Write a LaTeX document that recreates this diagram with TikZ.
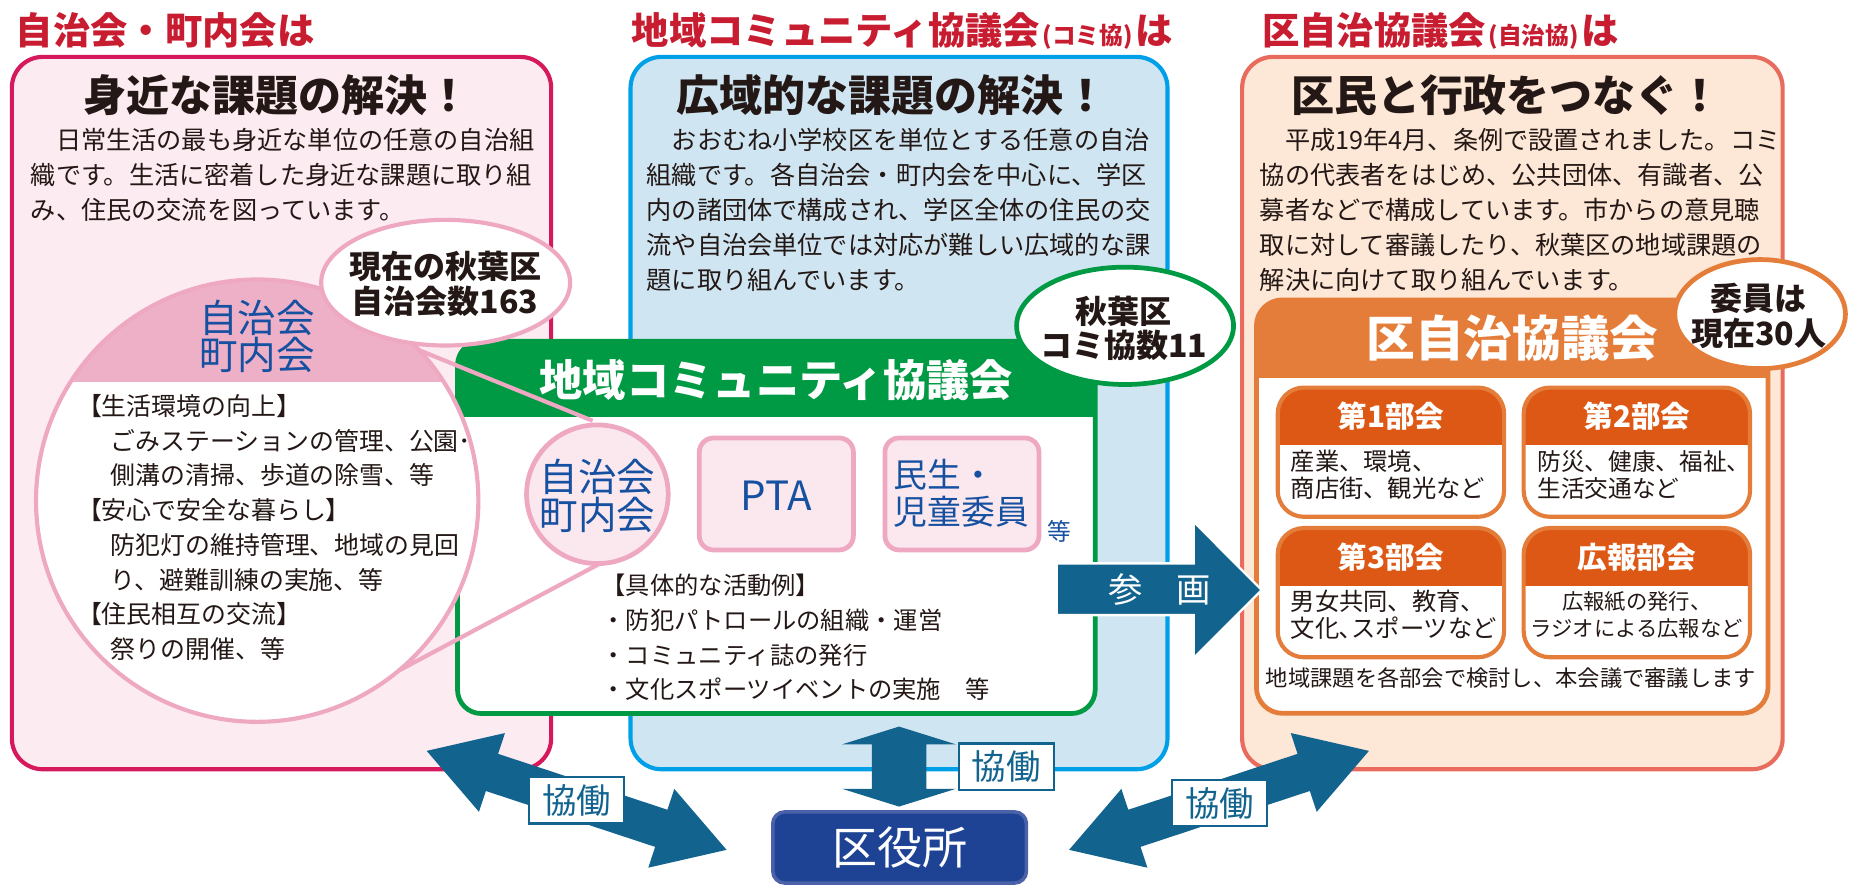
\documentclass[tikz,border=0pt]{standalone}
\usepackage{fontspec}
\newfontfamily\jp{Noto Sans CJK JP}
\usetikzlibrary{calc,shapes.geometric}
\definecolor{titlered}{RGB}{200,28,48}
\definecolor{inkc}{RGB}{35,24,21}
\definecolor{pinkfill}{RGB}{252,235,240}
\definecolor{pinkborder}{RGB}{214,24,92}
\definecolor{bluefill}{RGB}{207,229,242}
\definecolor{blueborder}{RGB}{0,160,233}
\definecolor{salmonfill}{RGB}{253,231,214}
\definecolor{salmonborder}{RGB}{233,107,94}
\definecolor{lpink}{RGB}{238,168,194}
\definecolor{cappink}{RGB}{237,176,199}
\definecolor{softpink}{RGB}{251,232,238}
\definecolor{greenc}{RGB}{0,153,68}
\definecolor{bluetext}{RGB}{22,80,160}
\definecolor{orangec}{RGB}{229,125,58}
\definecolor{darkorange}{RGB}{221,88,20}
\definecolor{arrowc}{RGB}{18,100,143}
\definecolor{wardfill}{RGB}{30,67,148}
\definecolor{wardborder}{RGB}{75,98,168}
\newcommand\jfs[1]{\fontsize{#1}{#1}\selectfont}
\newcommand\jtxt[5]{\node[#1] (#2) at ($(#3)+(0,{0.38*#4})$) {\jfs{#4}#5};}
\newcommand\dblarw[5]{%
  \fill[arrowc] (#1)
   -- ($(#1)!#3!(#2)!#4!90:(#2)$)
   -- ($(#1)!#3!(#2)!#5!90:(#2)$)
   -- ($(#2)!#3!(#1)!#5!-90:(#1)$)
   -- ($(#2)!#3!(#1)!#4!-90:(#1)$)
   -- (#2)
   -- ($(#2)!#3!(#1)!#4!90:(#1)$)
   -- ($(#2)!#3!(#1)!#5!90:(#1)$)
   -- ($(#1)!#3!(#2)!#5!-90:(#2)$)
   -- ($(#1)!#3!(#2)!#4!-90:(#2)$)
   -- cycle;}
\newcommand\bukai[4]{%
  \fill[white, rounded corners=22pt] (#2,#3) rectangle ++(191,109);
  \begin{scope}
    \clip[rounded corners=22pt] (#2,#3) rectangle ++(191,109);
    \fill[darkorange] (#2,#3) rectangle ++(191,48.5);
  \end{scope}
  \node[anchor=north west, draw=orangec, line width=3.5pt, rounded corners=22pt,
        minimum width=191pt, minimum height=109pt, inner sep=0, outer sep=0] (#1) at (#2,#3) {};
  \node[jtbc, text=white] (#1h) at ($(#2,#3)+(95.5,{24.5+0.38*25})$) {\jfs{25}#4};
}
\tikzset{
  jt/.style={inner sep=0, outer sep=0, anchor=base west, font=\jp, text=inkc},
  jtc/.style={jt, anchor=base},
  jtb/.style={jt, font=\jp\bfseries},
  jtbc/.style={jtb, anchor=base},
  mainbox/.style={anchor=north west, rounded corners=26pt, line width=3.5pt, inner sep=0, outer sep=0},
  kbox/.style={fill=white, draw=arrowc, line width=2pt, minimum width=80pt, minimum height=39pt,
               inner sep=0, text=arrowc, font=\jp\jfs{29}},
  pbox/.style={anchor=north west, fill=softpink, draw=lpink, line width=4pt, rounded corners=12pt,
               minimum width=130pt, minimum height=94.5pt, inner sep=0, outer sep=0},
}
\begin{document}
\begin{tikzpicture}[x=1pt,y=-1pt]
\useasboundingbox (0,0) rectangle (1560,753.4);
% ---------- main boxes
\node[mainbox, draw=pinkborder, fill=pinkfill, minimum width=455pt, minimum height=601pt] (pinkbox) at (10,48) {};
\node[mainbox, draw=blueborder, fill=bluefill, minimum width=453pt, minimum height=601pt] (bluebox) at (532,48) {};
\node[mainbox, draw=salmonborder, fill=salmonfill, minimum width=456pt, minimum height=601pt] (salmonbox) at (1048,48) {};
% ---------- titles
\jtxt{jtb,text=titlered}{t1}{13.4,25.3}{31.5}{自治会・町内会は}
\jtxt{jtb,text=titlered}{t2}{533,25.3}{31.5}{地域コミュニティ協議会{\jfs{20}\hspace{2pt}(コミ協)\hspace{2pt}}は}
\jtxt{jtb,text=titlered}{t3}{1065,25.3}{31.5}{区自治協議会{\jfs{20}\hspace{2pt}(自治協)\hspace{2pt}}は}
% ---------- headlines
\jtxt{jtbc}{h1}{233.8,80}{36.3}{身近な課題の解決！}
\jtxt{jtbc}{h2}{752.5,80}{36.3}{広域的な課題の解決！}
\jtxt{jtbc}{h3}{1270.8,80}{36.3}{区民と行政をつなぐ！}
% ---------- body texts
\jtxt{jt}{lb1}{26,118}{21.25}{　日常生活の最も身近な単位の任意の自治組}
\jtxt{jt}{lb2}{26,147.5}{21.25}{織です。生活に密着した身近な課題に取り組}
\jtxt{jt}{lb3}{26,177}{21.25}{み、住民の交流を図っています。}
\jtxt{jt}{mb1}{545.6,118}{21.25}{　おおむね小学校区を単位とする任意の自治}
\jtxt{jt}{mb2}{545.6,147.5}{21.25}{組織です。各自治会・町内会を中心に、学区}
\jtxt{jt}{mb3}{545.6,177}{21.25}{内の諸団体で構成され、学区全体の住民の交}
\jtxt{jt}{mb4}{545.6,206.5}{21.25}{流や自治会単位では対応が難しい広域的な課}
\jtxt{jt}{mb5}{545.6,236}{21.25}{題に取り組んでいます。}
\jtxt{jt}{rb1}{1063,118}{21.25}{　平成19年4月、条例で設置されました。コミ}
\jtxt{jt}{rb2}{1063,147.5}{21.25}{協の代表者をはじめ、公共団体、有識者、公}
\jtxt{jt}{rb3}{1063,177}{21.25}{募者などで構成しています。市からの意見聴}
\jtxt{jt}{rb4}{1063,206.5}{21.25}{取に対して審議したり、秋葉区の地域課題の}
\jtxt{jt}{rb5}{1063,236}{21.25}{解決に向けて取り組んでいます。}
% ---------- green community council box
\fill[white, rounded corners=20pt] (386,288) rectangle (924,602);
\begin{scope}
  \clip[rounded corners=20pt] (386,288) rectangle (924,602);
  \fill[greenc] (386,288) rectangle (924,352);
\end{scope}
\node[anchor=north west, draw=greenc, line width=4pt, rounded corners=20pt, minimum width=538pt, minimum height=314pt, inner sep=0, outer sep=0] (gbox) at (386,288) {};
\jtxt{jtbc,text=white}{gh}{655,320.6}{36.5}{地域コミュニティ協議会}
% ---------- big magnifier circle (on top of the green box)
\fill[white] (217,422.4) circle [radius=186.6pt];
\begin{scope}
  \clip (217,422.4) circle [radius=186.6pt];
  \fill[cappink] (20,220) rectangle (420,322.5);
\end{scope}
\node[circle, draw=lpink, line width=3.5pt, minimum size=373.2pt, inner sep=0] (bigc) at (217,422.4) {};
\jtxt{jtc,text=bluetext}{cap1}{217,268}{32.5}{自治会}
\jtxt{jtc,text=bluetext}{cap2}{217,299.6}{32.5}{町内会}
\jtxt{jt}{c1}{65,342.5}{21}{【生活環境の向上】}
\jtxt{jt}{c2}{93.5,371.8}{21}{ごみステーションの管理、公園･}
\jtxt{jt}{c3}{93.5,401.1}{21}{側溝の清掃、歩道の除雪、等}
\jtxt{jt}{c4}{65,430.4}{21}{【安心で安全な暮らし】}
\jtxt{jt}{c5}{93.5,459.7}{21}{防犯灯の維持管理、地域の見回}
\jtxt{jt}{c6}{93.5,489}{21}{り、避難訓練の実施、等}
\jtxt{jt}{c7}{65,518.3}{21}{【住民相互の交流】}
\jtxt{jt}{c8}{93.5,547.6}{21}{祭りの開催、等}
% ---------- count ellipse 163
\node[ellipse, fill=white, draw=lpink, line width=3.5pt, minimum width=210pt, minimum height=106pt, inner sep=0] (cnt163) at (376,238.5) {};
\jtxt{jtbc}{e1}{375.5,225}{27}{現在の秋葉区}
\jtxt{jtbc}{e2}{375.5,254.5}{27}{自治会数163}
% ---------- magnifier lines
\coordinate (mgA) at (355,296);
\coordinate (mgB) at (500,355);
\coordinate (mgC) at (336,566);
\coordinate (mgD) at (507,475);
\draw[lpink, line width=3.5pt] (mgA) -- (mgB);
\draw[lpink, line width=3.5pt] (mgC) -- (mgD);
% ---------- small circle and member boxes
\node[ellipse, fill=softpink, draw=lpink, line width=4pt, minimum width=119.5pt, minimum height=117pt, inner sep=0] (smallc) at (504,417) {};
\jtxt{jtc,text=bluetext}{sc1}{504,402}{32.5}{自治会}
\jtxt{jtc,text=bluetext}{sc2}{504,434}{32.5}{町内会}
\node[pbox] (pta) at (590,369.5) {};
\jtxt{jtc,text=bluetext}{ptat}{655,417.6}{34}{PTA}
\node[pbox] (minsei) at (746.6,369.5) {};
\jtxt{jt,text=bluetext}{ms1}{754,400.8}{28.5}{民生・}
\jtxt{jt,text=bluetext}{ms2}{754,431.7}{28.5}{児童委員}
\jtxt{jt,text=bluetext}{etc1}{884,448.6}{20}{等}
\jtxt{jt}{a1}{507.5,494}{20.5}{【具体的な活動例】}
\jtxt{jt}{a2}{507.5,523.3}{20.5}{・防犯パトロールの組織・運営}
\jtxt{jt}{a3}{507.5,552.6}{20.5}{・コミュニティ誌の発行}
\jtxt{jt}{a4}{507.5,581.9}{20.5}{・文化スポーツイベントの実施　等}
% ---------- count ellipse 11
\node[ellipse, fill=white, draw=greenc, line width=4pt, minimum width=183pt, minimum height=99pt, inner sep=0] (cnt11) at (949.2,274.9) {};
\jtxt{jtbc}{k1}{948,262.5}{27}{秋葉区}
\jtxt{jtbc}{k2}{948,291.5}{27}{コミ協数11}
% ---------- ward council box
\fill[white, rounded corners=22pt] (1060,253) rectangle (1491.7,601.8);
\begin{scope}
  \clip[rounded corners=22pt] (1060,253) rectangle (1491.7,601.8);
  \fill[orangec] (1060,253) rectangle (1491.7,319);
\end{scope}
\node[anchor=north west, draw=orangec, line width=4pt, rounded corners=22pt, minimum width=431.7pt, minimum height=348.8pt, inner sep=0, outer sep=0] (obox) at (1060,253) {};
\jtxt{jtbc,text=white}{oh}{1276,285.4}{41}{区自治協議会}
\node[ellipse, fill=white, draw=orangec, line width=4pt, minimum width=144pt, minimum height=92pt, inner sep=0] (cnt30) at (1485,265) {};
\jtxt{jtbc}{w1}{1484,251.6}{27}{委員は}
\jtxt{jtbc}{w2}{1484,281}{27}{現在30人}
\bukai{bk1}{1078}{327}{第1部会}
\bukai{bk2}{1285.5}{327}{第2部会}
\bukai{bk3}{1078}{445.5}{第3部会}
\bukai{bk4}{1285.5}{445.5}{広報部会}
\jtxt{jt}{s1a}{1089,389.5}{20.5}{産業、環境、}
\jtxt{jt}{s1b}{1089,411.9}{20.5}{商店街、観光など}
\jtxt{jt}{s2a}{1297,389.5}{20}{防災、健康、福祉、}
\jtxt{jt}{s2b}{1297,411.9}{20}{生活交通など}
\jtxt{jt}{s3a}{1089,507.6}{20.5}{男女共同、教育、}
\jtxt{jt}{s3b}{1089,530}{20.5}{文化､スポーツなど}
\jtxt{jtc}{s4a}{1381,507.6}{18}{広報紙の発行、}
\jtxt{jtc}{s4b}{1381,530}{18}{ラジオによる広報など}
\jtxt{jtc}{foot}{1274.8,572.3}{18.8}{地域課題を各部会で検討し、本会議で審議します}
% ---------- participation arrow
\filldraw[fill=arrowc, draw=white, line width=2pt]
  (891.5,475.3) -- (1007,475.3) -- (1007,440) -- (1064.5,497.8) -- (1007,555.4) -- (1007,519) -- (891.5,519) -- cycle;
\jtxt{jtc,text=white}{sankaku}{978.5,497}{29}{参　画}
% ---------- cooperation arrows
\coordinate (LA) at (360,633.5);
\coordinate (LB) at (613,717);
\dblarw{LA}{LB}{58pt}{35pt}{16.5pt}
\coordinate (RA) at (1155,633.5);
\coordinate (RB) at (902,717);
\dblarw{RA}{RB}{58pt}{35pt}{16.5pt}
\coordinate (MA) at (758.5,613);
\coordinate (MB) at (758.5,680.5);
\dblarw{MA}{MB}{15pt}{48pt}{23pt}
\node[kbox] (kl) at (486.5,675.3) {協働};
\node[kbox] (km) at (849,646.8) {協働};
\node[kbox] (kr) at (1029,677.5) {協働};
% ---------- ward office
\node[fill=wardfill, draw=wardborder, line width=3pt, rounded corners=10pt, minimum width=214pt, minimum height=60pt,
      inner sep=0, text=white, font=\jp\jfs{38}] (ward) at (759,715) {区役所};
\end{tikzpicture}
\end{document}
